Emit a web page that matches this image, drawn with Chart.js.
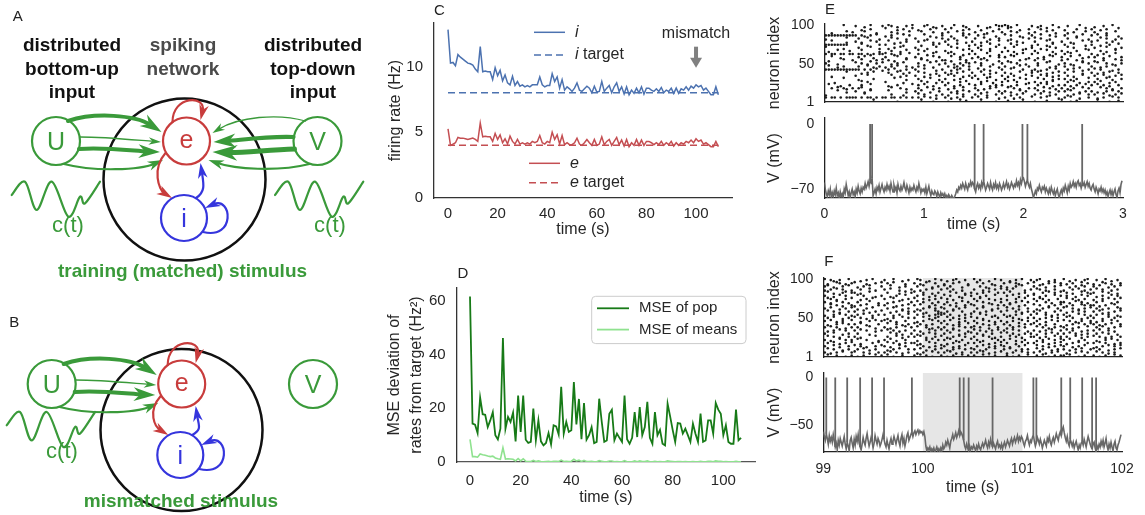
<!DOCTYPE html>
<html>
<head>
<meta charset="utf-8">
<title>Spiking network rates</title>
<script src="https://cdn.jsdelivr.net/npm/chart.js@4.4.1/dist/chart.umd.min.js"></script>
<style>
  html, body { margin: 0; padding: 0; background: #fff; }
  body { position: relative; width: 1145px; height: 515px; overflow: hidden;
         font-family: 'Liberation Sans', Arial, sans-serif; color: #222; }
  canvas, .lbl, .head { position: absolute; }
  .lbl { transform: translate(-50%, -50%); white-space: nowrap; line-height: 1; }
  .panel { font-size: 15px; color: #222; }
  .head { transform: translateX(-50%); text-align: center; font-weight: bold; font-size: 19px;
          line-height: 23.5px; color: #111; white-space: nowrap; }
  .node { font-size: 25px; }
  .ct { font-size: 22px; color: #3a9a3a; }
  .stim { font-weight: bold; font-size: 19px; color: #3a9a3a; }
</style>
</head>
<body>
<canvas id="net" width="385" height="515" style="left:0;top:0"></canvas>
<canvas id="rates"></canvas>
<canvas id="mse"></canvas>
<canvas id="voltE"></canvas>
<canvas id="rasterE"></canvas>
<canvas id="voltF"></canvas>
<canvas id="rasterF"></canvas>

<div class="lbl panel" style="left:17.7px;top:15.3px">A</div>
<div class="lbl panel" style="left:14.3px;top:321.3px">B</div>
<div class="lbl panel" style="left:439.5px;top:8.7px">C</div>
<div class="lbl panel" style="left:462.8px;top:272.2px">D</div>
<div class="lbl panel" style="left:830px;top:8.3px">E</div>
<div class="lbl panel" style="left:828.8px;top:260px">F</div>

<div class="head" style="left:72px;top:33px">distributed<br>bottom-up<br>input</div>
<div class="head" style="left:183px;top:33px;color:#4a4a4a">spiking<br>network</div>
<div class="head" style="left:313px;top:33px">distributed<br>top-down<br>input</div>

<div class="lbl node" style="left:56px;top:141px;color:#3a9a3a">U</div>
<div class="lbl node" style="left:186.5px;top:139px;color:#c83c3c">e</div>
<div class="lbl node" style="left:184px;top:218px;color:#3535dd">i</div>
<div class="lbl node" style="left:317.5px;top:141px;color:#3a9a3a">V</div>
<div class="lbl ct" style="left:68px;top:225px">c(t)</div>
<div class="lbl ct" style="left:330px;top:225px">c(t)</div>
<div class="lbl stim" style="left:182.5px;top:270px">training (matched) stimulus</div>

<div class="lbl node" style="left:51.7px;top:384px;color:#3a9a3a">U</div>
<div class="lbl node" style="left:181.7px;top:382px;color:#c83c3c">e</div>
<div class="lbl node" style="left:180.3px;top:455px;color:#3535dd">i</div>
<div class="lbl node" style="left:313px;top:384px;color:#3a9a3a">V</div>
<div class="lbl ct" style="left:62px;top:451px">c(t)</div>
<div class="lbl stim" style="left:181px;top:500px">mismatched stimulus</div>

<script>
const FONT = "'Liberation Sans', Arial, sans-serif";
const INK = '#262626';
Chart.defaults.font.family = FONT;
Chart.defaults.color = INK;

// ---------- C: population firing rates, one sample per second ----------
const rateStep = 1;
const iRate = [12.8,10.25,10.3,10.05,10.9,10.7,10.55,10.4,10.25,10.2,
  10.1,9.8,9.6,11.5,9.6,9.65,9.6,9.6,9.0,9.9,
  9.3,9.7,8.9,9.35,8.75,8.6,9.25,8.55,8.85,8.5,
  8.6,8.45,8.55,8.45,8.6,8.6,8.6,9.2,8.6,8.45,
  8.55,8.55,9.45,8.85,9.2,8.35,9.0,8.2,8.45,8.3,
  8.1,8.35,8.75,8.2,8.1,8.3,8.5,8.35,8.0,8.5,
  8.05,8.1,8.85,8.1,8.35,8.55,8.0,8.45,8.75,8.1,
  8.45,7.9,8.45,7.85,8.2,7.95,8.35,8.0,8.45,7.9,
  8.35,8.35,8.2,8.1,8.3,8.1,8.4,8.0,8.2,8.1,
  8.35,7.95,8.35,7.95,8.3,8.2,8.45,8.2,8.5,8.35,
  8.6,8.45,8.55,8.2,8.35,8.1,7.85,7.85,8.45,7.85];
const eRate = [5.25,4.0,4.1,4.2,4.6,4.55,4.55,4.5,4.45,4.5,
  4.55,4.45,4.3,5.7,4.65,4.7,4.65,4.65,4.3,4.9,
  4.45,4.8,4.2,4.5,4.1,4.7,4.3,4.1,4.45,4.1,
  4.2,4.1,4.2,4.1,4.3,4.2,4.3,4.75,4.2,4.1,
  4.3,4.2,5.0,4.45,4.8,4.1,4.75,4.05,4.2,4.05,
  4.05,4.2,4.55,4.1,4.0,4.2,4.45,4.2,4.0,4.45,
  4.0,4.1,4.65,4.05,4.3,4.45,4.0,4.3,4.6,4.05,
  4.4,3.95,4.45,3.9,4.2,4.0,4.45,4.0,4.4,4.0,
  4.3,4.3,4.2,4.05,4.2,4.05,4.3,4.0,4.2,4.05,
  4.3,3.95,4.2,4.0,4.2,4.1,4.3,4.2,4.4,4.2,
  4.5,4.3,4.4,4.1,4.2,4.05,3.9,3.9,4.3,3.9];
const iTarget = 8;
const eTarget = 4;
const mismatchAt = 100;
const rateTicksX = [0, 20, 40, 60, 80, 100];
const rateTicksY = [0, 5, 10];

// ---------- D: mean squared deviation from target ----------
const mseStep = 1;
const msePop = [61.7,14.3,13.9,10.8,24.0,17.8,17.6,13.0,15.5,18.6,
  10.0,8.4,12.4,46.2,12.4,16.8,14.9,18.4,7.7,24.8,
  11.2,24.8,8.3,7.1,7.5,19.9,8.1,15.5,7.7,6.2,
  7.1,10.8,6.6,13.7,13.3,10.3,28.0,10.6,14.9,11.2,
  11.8,29.8,14.0,23.5,8.5,22.0,8.3,10.0,13.0,7.0,
  7.5,23.6,15.0,7.5,8.0,18.0,19.5,8.1,10.6,9.0,
  7.5,24.8,8.5,6.8,9.0,18.6,9.3,20.5,10.0,13.0,
  22.4,9.0,6.8,18.6,10.0,12.0,6.8,6.2,21.7,17.0,
  12.0,7.5,14.5,14.3,10.6,12.4,10.0,7.5,14.3,10.5,
  7.5,18.0,7.5,8.0,15.5,15.5,10.6,22.0,19.5,18.0,
  10.0,13.7,7.5,6.8,6.8,19.5,8.1,9.0];
const mseMeans = [8.4,2.0,2.0,1.8,3.0,2.7,2.5,2.2,2.0,2.2,
  1.5,1.2,1.0,5.3,1.1,1.2,1.1,1.0,0.4,1.3,
  0.4,1.2,0.3,0.2,0.2,0.6,0.2,0.4,0.2,0.1,
  0.2,0.3,0.1,0.3,0.3,0.2,0.7,0.2,0.3,0.2,
  0.3,1.0,0.4,0.7,0.2,0.6,0.2,0.2,0.3,0.1,
  0.1,0.5,0.3,0.1,0.1,0.4,0.4,0.1,0.2,0.1,
  0.1,0.5,0.1,0.1,0.1,0.4,0.1,0.4,0.2,0.2,
  0.4,0.1,0.1,0.3,0.1,0.2,0.1,0.1,0.4,0.3,
  0.2,0.1,0.2,0.2,0.1,0.2,0.1,0.1,0.2,0.1,
  0.1,0.3,0.1,0.1,0.3,0.3,0.1,0.4,0.3,0.3,
  0.1,0.2,0.1,0.1,0.1,0.3,0.1,0.1];
const mseTicksY = [0, 20, 40, 60];

// ---------- E/F: spike rasters ----------
// 100 time bins x 25 groups of 4 neurons (top group first).
// '#' spike at the group centre, 'a' just above it, 'v' just below it.
const neuronTicks = [1, 50, 100];
const rasterE = [
  "......a... #..v.a...# .a#.v..#.a ...#a.v..# ...a..#v.. .#...v.a## a#v.a....# .v#...a.v. .#...a.... v..#..a...",
  ".......... ..v..#.... a...v.#..a .v...#.a.. #.a...v.#. ..v.a...#. .a...v..#. ..#.a.v... v...#..a.# ..v.#...a.",
  "..v....a.# ...a...v.. ..#.v...a. ..a...#..v .#..a.v... #...v.a..# ..a.#...v. #...a..v.. .v.#...a.. #...v..a..",
  "########## #.#v.#.a.. v.#...a.#. ...a.v...# ..v...#.a. .#.a...v.. a.#..v...# ..a..#.v.. #...v.a..# .a..#...v.",
  "v......a.. .#..a...v. ..a.#..v.. #...v..a.# .v.#...a.. #..a.v..#. ..v...a.#. a.#..v.... .#..a...v. ..a.#..v.#",
  "..a....v.. #.v..a.#.. .a...v.#.. .#.a..v... #...a..v.# ..v.#...a. .a..#.v... #...a.v..# ..v...a..# .a..v.#...",
  "########.. ..a.v...#. #..a..v... ..v...#.a. .#..a...v. #.v..a..#. ..a.#....v .#..v.a... #..a...v.# ..v..#..a.",
  "a.....v... .#...a..v. .v.#.a.... #...v..a.. ..a.#...v. .#...v.a.. #..a...v.# ..v..a.#.. .a.#...v.. #...a..v.#",
  ".v..a...#. ..a.....v. ..#..v.a.. .a.#...v.. #.v...a..# ..a..#...v .#.v..a... #...a.v..# .v..#...a. ..#.v..a..",
  "#.##.##.## .##.#v#.## a.#v.#..a. .#..v.a... .a.#..v.#. #...a...v. ..v.#.a..# .a...v.#.. #.a..v...# .v.#...a..",
  "..a..v.... .#.a..v... #...a..v.. #.v...a.#. ..a..#...v .#.v.a..#. #..a....v. .v.#..a..# ..a...v.#. #..v.a...#",
  ".v....a..# ..a..v.#.a .#.v...a.. ..a.#..v.# #.v..a.#.. ..a.#...v. .v...#.a.. #..a.v...# .a..#.v... v..#...a.#",
  "#...v..... a.#.v..#.a ..v.#.a... .#...a..v. #..v.#.a#. a.#...v..# ..a.#..v.. .#..a...v. #.v...a.#. .a..#.v..#",
  ".a..v.#... .#..a.v.#. v.#.a..#.v .#.a..v... .#.v#.a.#. ..a..#..v. #..v.a..#. .a...v.#.. #..a.v...# ..v.#..a..",
  "########## ##.#.#.a.v .#.a.v.#.. #..a...v.# ..v.#a..#. .a.#.v...# ..a...#..v #.v.#..a.. .#.a..v.#. a.#...v.#.",
  ".......a.. ..v.#.a... .#..a.v.#. .a.#...v.. #.v.#.a..# ..a..v.#.. #.v..a...# .a..v.#.a. #..a..v..# .v.#.a..#.",
  "..v....... #...a..... ..a..v.#.. #..v.a..#. .a.#..v.#. #..a.v...# .v.#...a.# ..a.#.v.#. .#.v..a... #..a.v.#.a",
  "......a... .v....#... ...a...v.. .#...a..v. #..v.#...a .#..a..v.. #..v.a.#.. .a.#..v.#. #.v.#...a. .#..a.v..#",
  "...v...... ..a.#..... #.....v... ..a.#..v.# .v...#.a.. ..#.a.v..# .a..#...v. #.v.#.a... .#.a.v..#. #.a..v.#..",
  ".a...v..#. ..#..a.... .v..#....a .#.a..v... #..v.#..a. #.a..v.#.# ..v.#..a.. .#..a.v.#. #.v.#..a.# .a.#.v..#.",
  "..#.a.#v.# .#a..v.... ..a..#.v.. .#..a.v.#. .v.#..a... #..v.#.a.. .a.#.v..#. #..a.#.v.# .v.#..a.#. ..a.#.v..#",
  "....a..v.. #..v.a.... .a.....v.. #.a..v..#. ..v.#.a.#. .a..v...#. #.v..a.#.. .a.#.v..#. #.a..v.#.# .v..#.a.#.",
  "v......... ...a...... ..#...v... .a.#...v.# .v..a.#... #.a.v..#.a ..v.#.a... #.a..v.#.. .v.#.a..#. #..a.v.#.a",
  "#.##.#.### #.#.##.#.# #.##.#.#.# .#.a.#.v.. #.v.#.a..# .a..#...v. #..v.#...a ..#.a...v. #.a..v..#. .v.#..a.#.",
  ".......... ......a... ....v..... ..a...v... .v...a.#.. ..a....v.. .#....a... v...#....a ..v.#..... .a...v..#."
];
const rasterF = [
  "a.#v.#..a. ..v.#.a... #..a..v.#. .a#..v.a.# .v.#a..#.. a.#..v.a.# ..v.#.a..# .#a..v.#.. a.v.#..#a. .#..a.v.#.",
  ".v..a#.v.# a...v..#.a .#.a...v.. #.v.a..#.. v..#.a..v. .a.#..v... #.a.#v..#. a..v.#.a.# .v.#..a.#. v..a#.v..#",
  "#a.v..#.a. .v.#.a...# ..a..v.#.. .#.a..v.#. a.#...v.a. ..#.v..a.# .v..#.a... #.a.v..#.a ..v.#.a#.. #.a..v.#.a",
  "v.#.a.#..v ..#..a.v.. #.a..v...# ..v.#.a..# .a.#..v... #..v.a.#.a .#.a...v.# .a#.v..#.. v..#.a.v.# .a.#..v.#.",
  ".a.v..#a.# #.v..a.... .#...v.a.# a..#..v.#. ..a.#..v.# .v.#.a..#. #.a..v.#.. v..#.a.#.a .#.v..a.#v #..a.#..v.",
  "#..v.a.#.. .a.#...v.# ..v.#..a.. .#.a.v.#.. a.#..v.a.# ..v.#..a.. .#.a.v..#. a.v.#..a.# .#..v.a.#. .v.#..a.#.",
  ".a#.v..#.a ..v.#.a... #..a..v.#. a..#.v.#.a .#.v..a... #.a..#.v.# .v..#..a.. #.a#.v..#. .a.#.v.#.. v..#.a.#.a",
  "#.v.a.#.v. .#...a..v. .v.#.a...# .a.#..v.#. .#..v.a.#. .a.#.v...# ..v.#.a.#. .a..#.v..# #.v.a.#.v. .#.a..v.#.",
  "..a.#.v..# v.#.a...#. #...v.#.a. #.a..v.#.. a.#.v..#.a #..v..a.#. #.a..v.#.. a.#..v.#.a .v.#..a#.# #.v.#..a..",
  "#.a..v.#.a .v..#.a... .#.a..v.#. .v.#.a.#.a #..v.#.a.. .#.a..v.#. .a.#.v..#. .v.#.a..#. a..#.v.#.a .#.v.#..a#",
  ".a.#.v..#. #..a.v.#.a ..v.#.a.#. #.a.v..a#v .#.a..#... #.v.#.a..# .a..#.v.#. #.a.v..#.a .v.#.a.#.. #.a..v.#.a",
  "v..#.a.#.v .#.a..v.#. #..v.#..a. .#.a.v.#a# a.#..v.#.a ..a.#..v.. #.v.#.a..# .a..#.v.#. #.v..a.#.v .#.a.#..v.",
  ".#.a..v.#. a.#.v.#... .v.#..a.#. #..a.v.#a. .a.#.v.#.a .#.v..a.#. .a.#.v..#. #.v.#.a.#. .a.#..v.#. #..v.a.#.a",
  "#.a.v.#..a ..v..#.a.# a.#.v..#.. .v.#..a.#. #.a..v.#.. #..a.#.v.# .v.#..a.#. .#..v.a.#. a.#.v.#..# .v.#..a.#.",
  ".v..#.a.#. #.a.v...#. .a..#.v.#. a.#.v.#..a .#.v.#..a. .a.#.v.#.. #.v..a.#.# a.#.v..#.. .v.#.a.#.a #.v.#.a..#",
  "#.a.#..v.# .#...a.v.. #.v.#..a.# .a..#.v.#. #..v.a.#.# a.#..v..#. .v.#.a.#.. .a.#.v.#.a #..v.#..a. .#.a.v.#.a",
  ".v.#.a.#.. #.a.#..v.# .a.#.v.#.. #.v..a.#.a .#.a.#..v. a.#.v.#.a. #..a.#..v. #.v.#.a..# .a.#..v.#. #.a..#.v..",
  "#..a..v.#. .#...v.... ..a.#.v..# .v.#.a.#.. #.a..v.#.a .#.v..#..a .a.#.v.#.# .v..#.a.#. #.a.#.v.#. .#.a.#..v.",
  ".a.#.v..#. #.v....a.. .#..a.v.#. #.a.v..#.a .v.#.a.#.. #..a.#.v.# ..a.#.v..# #.v.#..a.# .#..a.v.#. a.#.v.#..#",
  "#.v..a.#.# .a..#...v. #.a.v..#.. .v..#.a.#. #.a.v.#..a .#.v..a.#. #.a.v..#.. .v.#.a.#.a #.a..v.#.. .v..#.a.#.",
  ".#.a.v.#.a ..v...#.a. .a.#.v.#.# #.v..a.#.. .v.#.a..#. #.a..v.#.a .#..v.a.#. #..a.v.#.a .v.#.a..#. #.a.#..v.#",
  "#..a.v..#. a.#.v..#.a #.v..a.#.. .a.#.v.#.a #..v.#.a.. .#.a.v.#.a #.v..#.a.. .a.#.v.#.a #..v.#.a.. .v.#.a.#.a",
  ".a.#..v.#. .#.a.v.#.. .v.#.a..#. #.a.v..#.a .v.#.a.#.a #.v.#..a.. #.a.v.#.#. .a.#..v.#. #.v.#.a..# a.#..v.#.a",
  "#.v.#.a..# a..#.v..#. #.a.#.v.#. .v.#..a.#. #.a.v.#..# .#.a.v.#.a .v.#..a.#. #.a.v.#.a. .v..#.a.#. .a.#.v.#..",
  ".a..#..v.# .v.#...a.# .a.v..#... #.a.#.v..# .v.#..a.#. #..a.v.#.. .#.v.#..a. .#.a.v.#.# #.a..v.#.. #.v.#..a.#"
];

// ---------- E/F: membrane potential of one neuron (mV, sampled every 10 ms) ----------
const vStep = 0.01;
const vE = [
  -63,-70,-75,-78,-72,-76,-70,-79,-74,-78,  -72,-76,-69,-77,-74,-80,-73,-78,-75,-79,
  -70,-74,-65,-71,-77,-73,-79,-74,-70,-76,  -73,-78,-70,-74,-67,-72,-75,-69,-73,-68,
  -70,-64,-69,-66,-62,-67,-61,-63,-58,-77,  -74,-70,-75,-68,-71,-66,-73,-69,-65,-70,
  -73,-68,-71,-65,-70,-67,-72,-64,-69,-73,  -66,-71,-68,-74,-65,-70,-72,-67,-71,-68,
  -63,-69,-72,-66,-70,-74,-68,-72,-69,-71,  -66,-70,-73,-68,-71,-64,-69,-74,-70,-72,
  -70,-74,-68,-75,-71,-67,-73,-77,-72,-75,  -76,-72,-74,-78,-73,-76,-79,-74,-77,-75,
  -78,-75,-79,-77,-80,-76,-78,-80,-77,-79,  -80,-78,-75,-71,-73,-68,-70,-66,-69,-64,
  -67,-70,-64,-68,-71,-65,-67,-62,-66,-63,  -65,-70,-73,-67,-64,-69,-66,-70,-63,-67,
  -61,-66,-71,-68,-64,-67,-70,-63,-68,-71,  -65,-68,-63,-69,-66,-70,-64,-67,-71,-68,
  -64,-69,-66,-62,-68,-65,-70,-67,-63,-66,  -69,-65,-67,-61,-66,-63,-68,-60,-64,-59,
  -58,-62,-67,-63,-60,-65,-68,-64,-70,-74,  -79,-76,-72,-75,-69,-71,-66,-70,-73,-68,
  -70,-67,-73,-69,-72,-75,-70,-74,-68,-72,  -75,-71,-77,-73,-70,-76,-79,-74,-71,-75,
  -69,-72,-66,-70,-74,-67,-71,-64,-68,-66,  -62,-67,-64,-68,-63,-61,-66,-64,-69,-65,
  -66,-63,-68,-65,-62,-67,-64,-69,-71,-67,  -65,-70,-73,-68,-71,-75,-70,-72,-68,-73,
  -70,-74,-71,-76,-73,-78,-74,-71,-76,-72,  -77,-73,-70,-76,-79,-72,-69,-74,-65,-61];
const spikesE = [0.46, 0.48, 1.51, 1.60, 1.99, 2.04, 2.59];
const vF = [
  -57,-62,-66,-59,-64,-70,-61,-67,-63,-68,  -60,-66,-73,-69,-76,-66,-71,-64,-68,-72,
  -67,-62,-70,-75,-68,-72,-77,-66,-63,-69,  -74,-65,-71,-62,-67,-60,-69,-73,-76,-70,
  -63,-68,-71,-64,-59,-66,-72,-68,-63,-67,  -74,-69,-61,-66,-70,-64,-67,-72,-69,-65,
  -60,-65,-70,-73,-66,-71,-75,-68,-64,-70,  -67,-62,-66,-70,-65,-61,-68,-72,-64,-60,
  -69,-64,-72,-67,-61,-58,-66,-63,-60,-57,  -62,-58,-56,-60,-57,-55,-59,-56,-58,-57,
  -60,-57,-62,-72,-77,-74,-76,-73,-78,-75,  -77,-74,-78,-76,-73,-77,-75,-78,-74,-77,
  -71,-75,-73,-68,-71,-66,-70,-74,-67,-64,  -60,-65,-62,-58,-63,-60,-56,-61,-57,-59,
  -62,-66,-72,-75,-70,-74,-77,-72,-76,-73,  -75,-71,-74,-77,-72,-75,-70,-74,-76,-72,
  -69,-73,-70,-66,-71,-74,-68,-72,-65,-70,  -73,-69,-72,-75,-70,-67,-73,-71,-74,-70,
  -75,-71,-68,-73,-70,-66,-69,-72,-67,-64,  -70,-66,-63,-68,-65,-61,-67,-63,-66,-62,
  -64,-69,-72,-67,-65,-61,-67,-71,-66,-68,  -63,-60,-67,-72,-68,-63,-66,-70,-65,-69,
  -74,-70,-66,-69,-72,-64,-67,-62,-68,-71,  -66,-63,-68,-64,-59,-63,-66,-60,-57,-61,
  -55,-52,-58,-63,-67,-62,-69,-72,-65,-68,  -72,-68,-74,-70,-67,-72,-76,-71,-74,-69,
  -67,-71,-65,-69,-73,-67,-62,-66,-70,-73,  -75,-70,-68,-74,-78,-72,-75,-70,-73,-67,
  -71,-66,-73,-69,-64,-72,-76,-70,-74,-68,  -73,-77,-70,-67,-74,-76,-71,-68,-64,-60];
const spikesF = [99.03, 99.12, 99.24, 99.37, 99.49, 99.61, 99.89, 100.37, 100.41, 100.46,
  100.70, 101.11, 101.14, 101.39, 101.48, 101.60, 101.70, 101.74];
const mismatchWindow = [100, 101];

// ---------- helpers ----------
const BLUE = '#4c72b0', RED = '#c44e52';
const DARK_GREEN = '#177a17', LIGHT_GREEN = '#8fe28f';
const TRACE = '#676767';

function series(values, t0, step) {
  return values.map((v, k) => ({ x: t0 + k * step, y: v }));
}

const rowShift = { '#': 0, 'a': 1.4, 'v': -1.4 };
function rasterPoints(rows, t0, t1) {
  const pts = [];
  const dt = (t1 - t0) / 100;
  rows.forEach((row, r) => {
    const cells = row.replace(/ /g, '');
    for (let c = 0; c < cells.length; c++) {
      if (cells[c] in rowShift) pts.push({ x: t0 + (c + 0.5) * dt, y: 98.5 - 4 * r + rowShift[cells[c]] });
    }
  });
  return pts;
}

function spikeLines(spikes, v, t0, step) {
  const pts = [];
  spikes.forEach(ts => {
    const k = Math.min(v.length - 1, Math.round((ts - t0) / step));
    pts.push({ x: ts, y: v[k] }, { x: ts, y: 0 }, { x: ts, y: null });
  });
  return pts;
}

// place a canvas so that its chart area lands on the given page box
function frame(id, area, yW, xH, pad) {
  const c = document.getElementById(id);
  c.width = Math.round(yW + area.r - area.l + pad.right);
  c.height = Math.round(pad.top + area.b - area.t + xH);
  c.style.left = (area.l - yW) + 'px';
  c.style.top = (area.t - pad.top) + 'px';
  return c;
}

function axis(o) {
  return {
    type: 'linear', position: o.pos, min: o.min, max: o.max,
    grid: { display: false, drawTicks: false },
    border: { display: true, color: o.spine || '#333', width: 1.3 },
    ticks: {
      display: !!(o.ticks && o.ticks.length), color: INK, padding: o.pad || 0,
      font: { family: FONT, size: o.size || 15 }, maxRotation: 0, autoSkip: false,
      callback: v => String(v).replace('-', '\u2212')
    },
    title: o.title ? {
      display: true, text: o.title, color: INK, padding: o.tpad,
      font: { family: FONT, size: 16, lineHeight: o.lh || 1.2 }
    } : { display: false },
    afterBuildTicks: s => { s.ticks = (o.ticks || []).map(v => ({ value: v })); },
    afterFit: s => {
      if (o.pos === 'left') s.width = o.extent; else s.height = o.extent;
      s.paddingTop = s.paddingBottom = s.paddingLeft = s.paddingRight = 0;
    }
  };
}

function baseOptions(pad, scales) {
  return {
    responsive: false, animation: false, devicePixelRatio: 1,
    layout: { padding: { top: pad.top, right: pad.right, left: 0, bottom: 0 } },
    elements: { point: { radius: 0 }, line: { tension: 0 } },
    plugins: { legend: { display: false }, tooltip: { enabled: false } },
    scales
  };
}

function legendRow(ctx, x0, x1, y, color, dash, width, parts, size) {
  ctx.save();
  ctx.strokeStyle = color; ctx.lineWidth = width; ctx.setLineDash(dash);
  ctx.beginPath(); ctx.moveTo(x0, y); ctx.lineTo(x1, y); ctx.stroke();
  ctx.restore();
  let x = x1 + 10;
  ctx.fillStyle = INK; ctx.textAlign = 'left'; ctx.textBaseline = 'middle';
  parts.forEach(([txt, italic]) => {
    ctx.font = (italic ? 'italic ' : '') + size + 'px ' + FONT;
    ctx.fillText(txt, x, y);
    x += ctx.measureText(txt).width;
  });
}

// ---------- C ----------
const ratesDecor = {
  id: 'ratesDecor',
  afterDatasetsDraw(chart) {
    const { ctx, chartArea: a, scales: { x, y } } = chart;
    legendRow(ctx, a.left + 100, a.left + 131, a.top + 9.3, BLUE, [], 1.5, [['i', true]], 16);
    legendRow(ctx, a.left + 100, a.left + 131, a.top + 32, BLUE, [7, 4], 1.5, [['i', true], [' target', false]], 16);
    legendRow(ctx, a.left + 95, a.left + 126, a.top + 140.3, RED, [], 1.5, [['e', true]], 16);
    legendRow(ctx, a.left + 95, a.left + 126, a.top + 159.7, RED, [7, 4], 1.5, [['e', true], [' target', false]], 16);
    const mx = x.getPixelForValue(mismatchAt);
    ctx.save();
    ctx.fillStyle = INK; ctx.font = '16px ' + FONT; ctx.textAlign = 'center'; ctx.textBaseline = 'middle';
    ctx.fillText('mismatch', mx, y.getPixelForValue(12.5));
    const yTop = y.getPixelForValue(11.5), yTip = y.getPixelForValue(9.9);
    ctx.fillStyle = '#808080';
    ctx.fillRect(mx - 2, yTop, 4, yTip - yTop - 8);
    ctx.beginPath();
    ctx.moveTo(mx - 6, yTip - 10); ctx.lineTo(mx + 6, yTip - 10); ctx.lineTo(mx, yTip); ctx.closePath();
    ctx.fill();
    ctx.restore();
  }
};

const lastRateT = (iRate.length - 1) * rateStep;
const areaC = { l: 434, r: 732, t: 23, b: 198 };
const padC = { top: 10, right: 14 };
new Chart(frame('rates', areaC, 54, 45, padC), {
  type: 'line',
  data: { datasets: [
    { data: series(iRate, 0, rateStep), borderColor: BLUE, borderWidth: 1.5 },
    { data: [{ x: 0, y: iTarget }, { x: lastRateT, y: iTarget }], borderColor: BLUE, borderWidth: 1.5, borderDash: [7, 4] },
    { data: series(eRate, 0, rateStep), borderColor: RED, borderWidth: 1.5 },
    { data: [{ x: 0, y: eTarget }, { x: lastRateT, y: eTarget }], borderColor: RED, borderWidth: 1.5, borderDash: [7, 4] }
  ] },
  options: baseOptions(padC, {
    x: axis({ pos: 'bottom', min: -5.65, max: 114.5, ticks: rateTicksX, pad: 7, extent: 45,
              title: 'time (s)', tpad: { top: 0, bottom: 3.5 } }),
    y: axis({ pos: 'left', min: 0, max: 13.3, ticks: rateTicksY, pad: 11, extent: 54,
              title: 'firing rate (Hz)', tpad: { top: 5.5, bottom: 0 } })
  }),
  plugins: [ratesDecor]
});

// ---------- D ----------
const mseLegend = {
  id: 'mseLegend',
  afterDatasetsDraw(chart) {
    const { ctx, chartArea: a } = chart;
    const bx = a.left + 135, by = a.top + 8.3, bw = 154.3, bh = 47.3;
    ctx.save();
    ctx.beginPath(); ctx.roundRect(bx, by, bw, bh, 4);
    ctx.fillStyle = 'rgba(255,255,255,0.85)'; ctx.fill();
    ctx.strokeStyle = '#cccccc'; ctx.lineWidth = 1; ctx.stroke();
    ctx.restore();
    legendRow(ctx, a.left + 140.3, a.left + 172.3, a.top + 20.3, DARK_GREEN, [], 1.8, [['MSE of pop', false]], 15);
    legendRow(ctx, a.left + 140.3, a.left + 172.3, a.top + 41.6, LIGHT_GREEN, [], 1.8, [['MSE of means', false]], 15);
  }
};

const areaD = { l: 456.7, r: 755, t: 287.7, b: 461.7 };
const padD = { top: 10, right: 14 };
new Chart(frame('mse', areaD, 76.7, 48, padD), {
  type: 'line',
  data: { datasets: [
    { data: series(msePop, 0, mseStep), borderColor: DARK_GREEN, borderWidth: 1.8 },
    { data: series(mseMeans, 0, mseStep), borderColor: LIGHT_GREEN, borderWidth: 1.6 }
  ] },
  options: baseOptions(padD, {
    x: axis({ pos: 'bottom', min: -5.25, max: 112.5, ticks: rateTicksX, pad: 10, extent: 48, spine: '#555',
              title: 'time (s)', tpad: { top: 0, bottom: 3.1 } }),
    y: axis({ pos: 'left', min: 0, max: 64.85, ticks: mseTicksY, pad: 11, extent: 76.7, lh: 1.35,
              title: ['MSE deviation of', 'rates from target (Hz\u00b2)'], tpad: { top: 4.2, bottom: 0 } })
  }),
  plugins: [mseLegend]
});

// ---------- E/F ----------
const shade = {
  id: 'shade',
  beforeDatasetsDraw(chart, args, opts) {
    if (!opts.range) return;
    const { ctx, chartArea: a, scales: { x } } = chart;
    const x0 = x.getPixelForValue(opts.range[0]), x1 = x.getPixelForValue(opts.range[1]);
    ctx.save(); ctx.fillStyle = '#e6e6e6';
    ctx.fillRect(x0, a.top, x1 - x0, a.bottom - a.top - 1);
    ctx.restore();
  }
};

function rasterChart(id, area, yW, rows, t0, t1, range) {
  const pad = { top: 10, right: 16 };
  const opts = baseOptions(pad, {
    x: axis({ pos: 'bottom', min: t0, max: t1, ticks: [], extent: 16, spine: '#222' }),
    y: axis({ pos: 'left', min: 0.8, max: 101.2, ticks: neuronTicks, pad: 10, size: 14, extent: yW, spine: '#222',
              title: 'neuron index', tpad: { top: 0.4, bottom: 0 } })
  });
  opts.plugins.shade = { range };
  return new Chart(frame(id, area, yW, 16, pad), {
    type: 'scatter',
    data: { datasets: [{ data: rasterPoints(rows, t0, t1), pointRadius: 1.3, pointStyle: 'circle',
                         backgroundColor: '#1c1c1c', borderWidth: 0 }] },
    options: opts,
    plugins: [shade]
  });
}

function voltChart(id, area, yW, xH, v, spikes, t0, t1, vmin, vmax, vTicks, xTicks, xPad, tpadB, range) {
  const pad = { top: 10, right: 16 };
  const opts = baseOptions(pad, {
    x: axis({ pos: 'bottom', min: t0, max: t1, ticks: xTicks, pad: xPad, size: 14, extent: xH, spine: '#222',
              title: 'time (s)', tpad: { top: 0, bottom: tpadB } }),
    y: axis({ pos: 'left', min: vmin, max: vmax, ticks: vTicks, pad: 10, size: 14, extent: yW, spine: '#222',
              title: 'V (mV)', tpad: { top: 0.4, bottom: 0 } })
  });
  opts.plugins.shade = { range };
  return new Chart(frame(id, area, yW, xH, pad), {
    type: 'line',
    data: { datasets: [
      { data: series(v, t0, vStep), borderColor: TRACE, borderWidth: 1.6 },
      { data: spikeLines(spikes, v, t0, vStep), borderColor: TRACE, borderWidth: 1.8, spanGaps: false }
    ] },
    options: opts,
    plugins: [shade]
  });
}

rasterChart('rasterE', { l: 824.3, r: 1122.5, t: 24, b: 102.3 }, 59.3, rasterE, 0, 3, null);
voltChart('voltE', { l: 824.3, r: 1122.5, t: 118, b: 198.3 }, 59.3, 40, vE, spikesE, 0, 3,
          -79.6, 6.4, [0, -70], [0, 1, 2, 3], 8, 3.7, null);
rasterChart('rasterF', { l: 823.3, r: 1121.7, t: 278.3, b: 357.3 }, 58.3, rasterF, 99, 102, mismatchWindow);
voltChart('voltF', { l: 823.3, r: 1121.7, t: 372.7, b: 452 }, 58.3, 46, vF, spikesF, 99, 102,
          -78.3, 4.8, [0, -50], [99, 100, 101, 102], 9, 0.4, mismatchWindow);

// ---------- A/B: network sketches ----------
const GREEN = '#3a9a3a', NRED = '#c83c3c', NBLUE = '#3535dd';
const P = (p, dx, dy) => ({ x: p.x + dx, y: p.y + dy });

function ring(ctx, p, r, color, lw) {
  ctx.beginPath(); ctx.arc(p.x, p.y, r, 0, 2 * Math.PI);
  ctx.strokeStyle = color; ctx.lineWidth = lw; ctx.stroke();
}

function smoothPath(ctx, pts) {
  ctx.beginPath(); ctx.moveTo(pts[0].x, pts[0].y);
  for (let k = 0; k < pts.length - 1; k++) {
    const p0 = pts[k - 1] || pts[k], p1 = pts[k], p2 = pts[k + 1], p3 = pts[k + 2] || p2;
    ctx.bezierCurveTo(p1.x + (p2.x - p0.x) / 6, p1.y + (p2.y - p0.y) / 6,
                      p2.x - (p3.x - p1.x) / 6, p2.y - (p3.y - p1.y) / 6, p2.x, p2.y);
  }
}

function arrow(ctx, s, c1, c2, e, lw, color) {
  const len = 8 + 3.4 * lw, half = 2.4 + 1.1 * lw;
  const ang = Math.atan2(e.y - c2.y, e.x - c2.x);
  const back = len * 0.6;
  ctx.beginPath(); ctx.moveTo(s.x, s.y);
  ctx.bezierCurveTo(c1.x, c1.y, c2.x, c2.y, e.x - Math.cos(ang) * back, e.y - Math.sin(ang) * back);
  ctx.strokeStyle = color; ctx.lineWidth = lw; ctx.lineCap = 'round'; ctx.stroke();
  ctx.save(); ctx.translate(e.x, e.y); ctx.rotate(ang);
  ctx.beginPath(); ctx.moveTo(0, 0); ctx.lineTo(-len, -half); ctx.lineTo(-len * 0.7, 0); ctx.lineTo(-len, half);
  ctx.closePath(); ctx.fillStyle = color; ctx.fill(); ctx.restore();
}

const waveShape = [[0, 13.3], [13.3, 0], [25, 28.3], [40, 0], [56.6, 35], [68.3, 15], [73.3, 21.6], [88.3, 0]];
function wave(ctx, x0, y0) {
  smoothPath(ctx, waveShape.map(([dx, dy]) => ({ x: x0 + dx, y: y0 + dy })));
  ctx.strokeStyle = GREEN; ctx.lineWidth = 2.2; ctx.stroke();
}

function drawNet(ctx, g, topDown) {
  const { e, i, U, V } = g;
  ring(ctx, g.ring, g.ring.r, '#111', 2.5);
  ring(ctx, e, 23.5, NRED, 2.2);
  ring(ctx, i, 23, NBLUE, 2.2);
  ring(ctx, U, 24, GREEN, 2.2);
  ring(ctx, V, 24, GREEN, 2.2);
  // bottom-up projections onto e
  arrow(ctx, P(U, 12, -20), P(U, 39, -29), P(e, -51.5, -26), P(e, -25, -9), 4, GREEN);
  arrow(ctx, P(U, 24, -4), P(U, 49, -4), P(e, -51.5, -1), P(e, -25.5, 1), 1.3, GREEN);
  arrow(ctx, P(U, 23, 8), P(U, 49, 6), P(e, -51.5, 10), P(e, -26.5, 11), 4, GREEN);
  arrow(ctx, P(U, 8, 23), P(U, 39, 31), P(e, -46.5, 29), P(e, -23.5, 19), 2.2, GREEN);
  if (topDown) {
    arrow(ctx, P(V, -12, -20), P(V, -40, -28), P(e, 52, -24), P(e, 26, -8), 1.3, GREEN);
    arrow(ctx, P(V, -24, -4), P(V, -50, -5), P(e, 55, -1), P(e, 27, 1), 4.2, GREEN);
    arrow(ctx, P(V, -23, 8), P(V, -50, 9), P(e, 55, 12), P(e, 26, 11), 5, GREEN);
    arrow(ctx, P(V, -8, 23), P(V, -40, 31), P(e, 48, 28), P(e, 22, 19), 2.2, GREEN);
  }
  // recurrent loops
  arrow(ctx, P(e, -14, -19), P(e, -14, -46), P(e, 20, -46), P(e, 14, -21), 2.2, NRED);
  arrow(ctx, P(e, -21, 12), P(e, -35, 28), P(i, -25, -28), P(i, -12, -20), 2.2, NRED);
  arrow(ctx, P(i, 12, -20), P(i, 22, -26), P(e, 17, 42), P(e, 14, 22), 2.2, NBLUE);
  arrow(ctx, P(i, 19, 14), P(i, 52, 22), P(i, 48, -22), P(i, 21, -10), 2.2, NBLUE);
}

const net = document.getElementById('net').getContext('2d');
drawNet(net, { ring: { x: 184.5, y: 179.5, r: 81 }, e: { x: 186.5, y: 141 }, i: { x: 184, y: 218 },
               U: { x: 56, y: 141 }, V: { x: 317.5, y: 141 } }, true);
wave(net, 11.7, 181.7);
wave(net, 275, 181.7);
drawNet(net, { ring: { x: 181.5, y: 430, r: 81 }, e: { x: 181.7, y: 384 }, i: { x: 180.3, y: 455 },
               U: { x: 51.7, y: 384 }, V: { x: 313, y: 384 } }, false);
wave(net, 6.7, 412);
</script>
</body>
</html>
